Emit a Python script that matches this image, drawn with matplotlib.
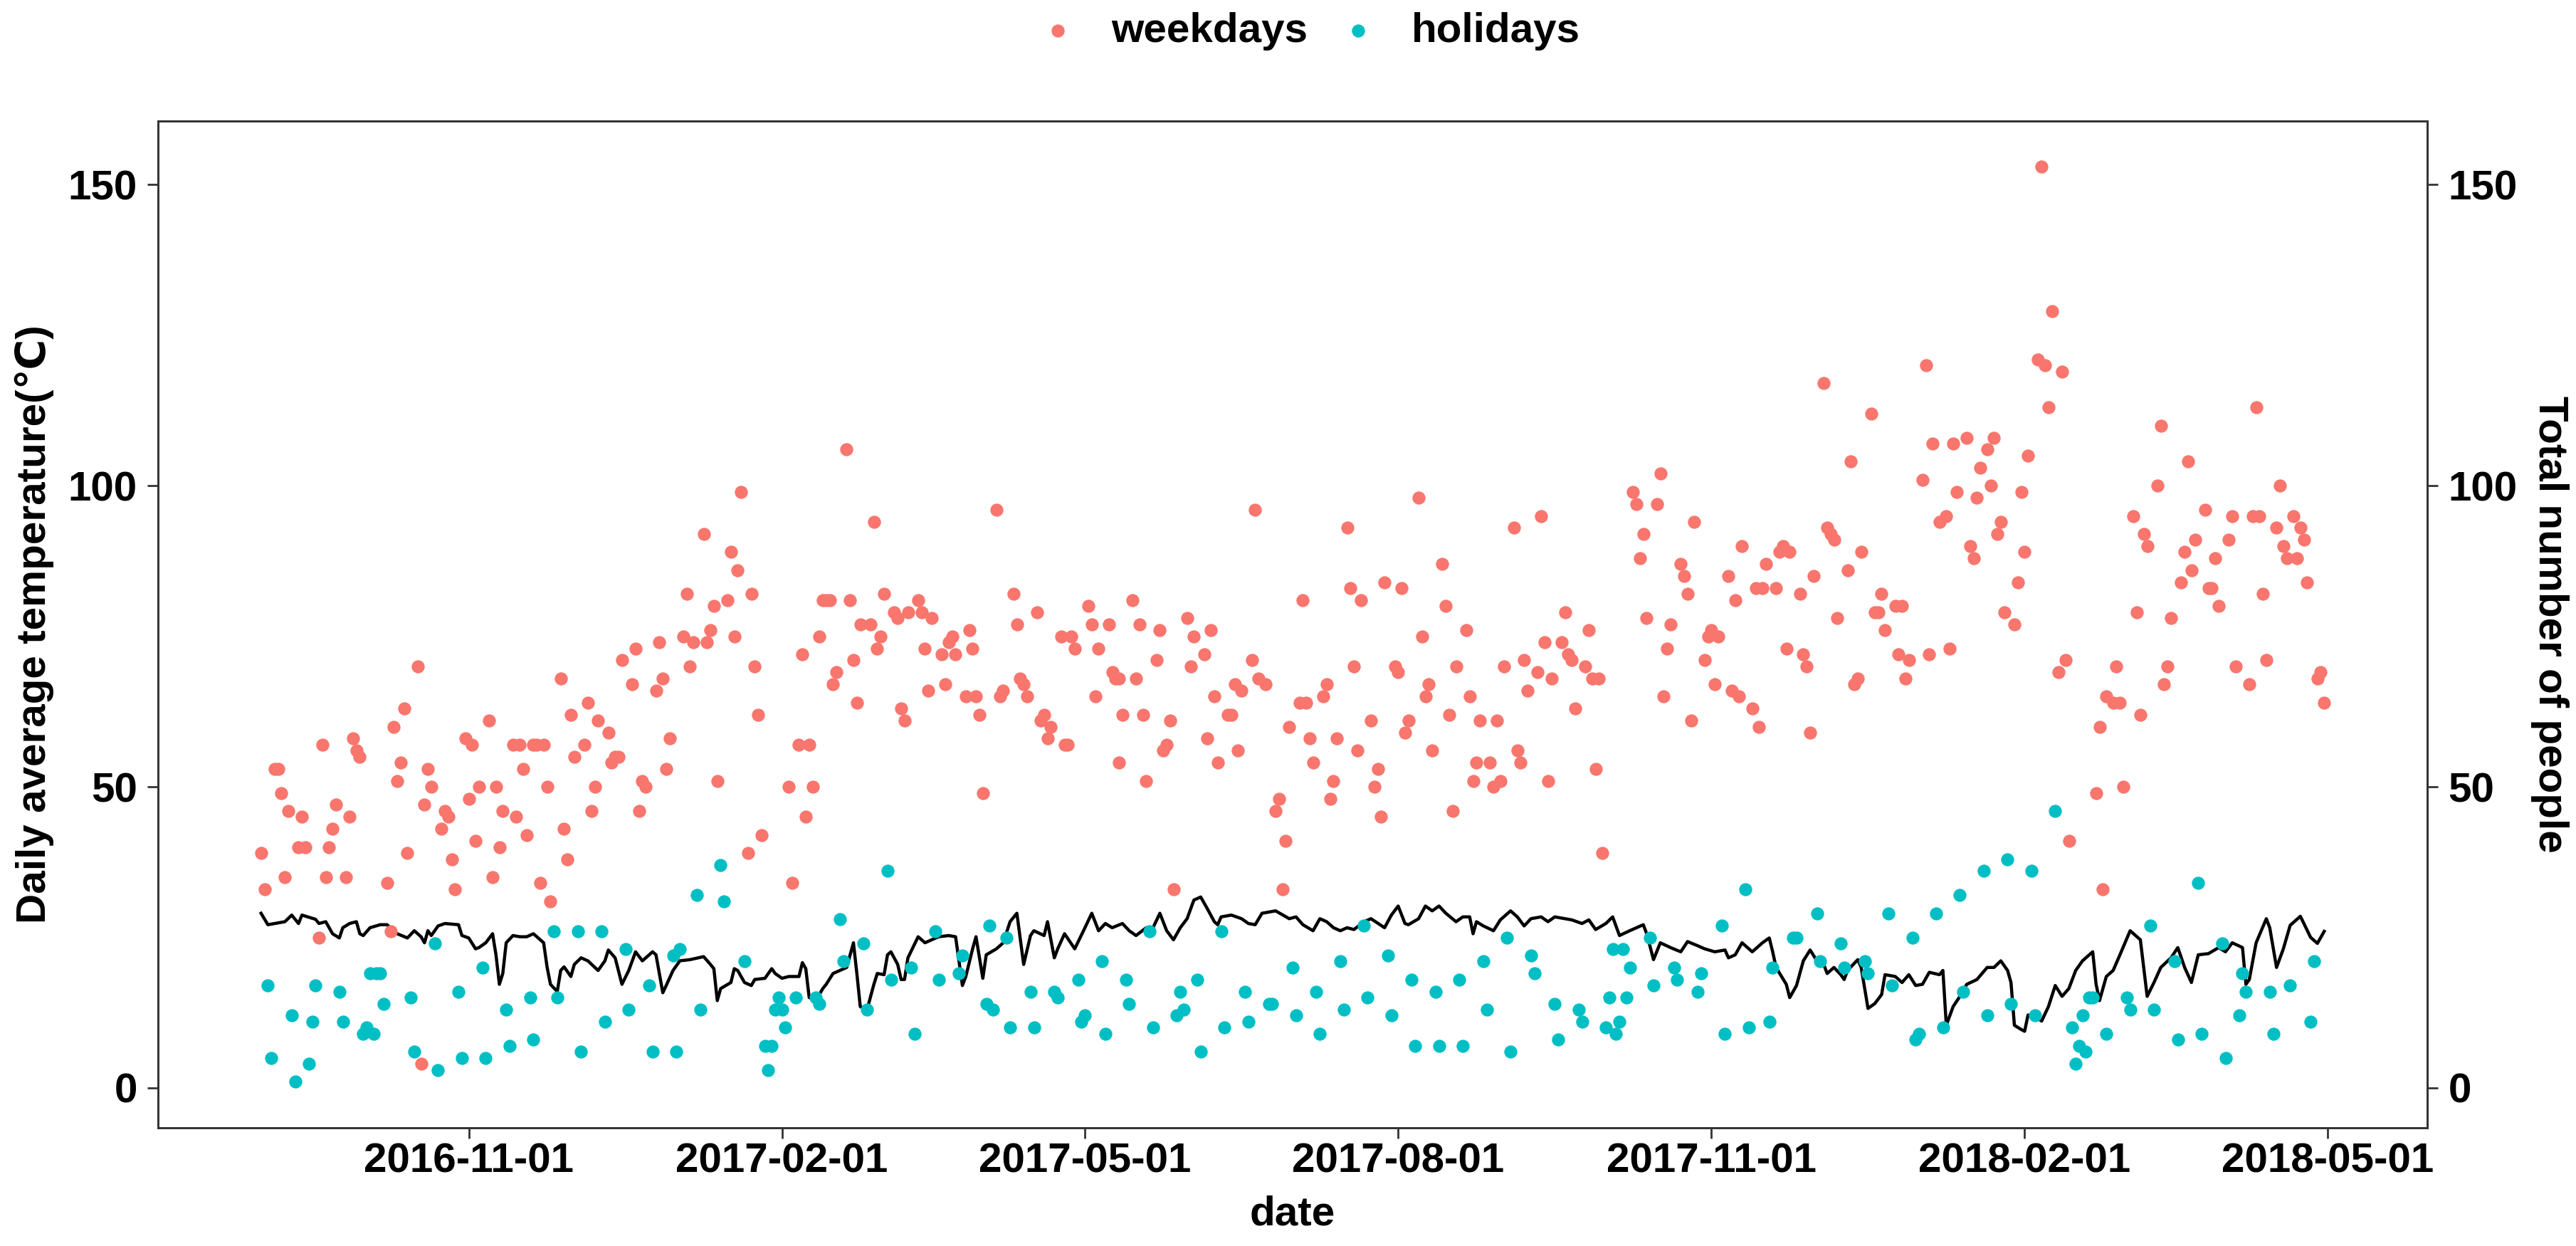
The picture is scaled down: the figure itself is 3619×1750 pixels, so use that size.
import numpy as np
import matplotlib
matplotlib.use('Agg')
import matplotlib.pyplot as plt
import matplotlib.dates as mdates

plt.rcParams['font.family'] = ['Liberation Sans', 'DejaVu Sans']
plt.rcParams['font.weight'] = 'bold'

# day offsets counted from 2016-09-01
start = np.datetime64('2016-09-01')

wd_day = [0, 1, 4, 5, 6, 7, 8, 11, 12, 13, 17, 18, 19, 20, 21, 22, 25, 26, 27, 28, 29, 37, 38, 39, 40, 41, 42, 43,
          46, 47, 48, 49, 50, 53, 54, 55, 56, 57, 60, 61, 62, 63, 64, 67, 68, 69, 70, 71, 74, 75, 76, 77, 78, 80,
          81, 82, 83, 84, 85, 88, 89, 90, 91, 92, 95, 96, 97, 98, 99, 102, 103, 104, 105, 106, 109, 110, 111, 112,
          113, 116, 117, 118, 119, 120, 124, 125, 126, 127, 130, 131, 132, 133, 134, 137, 138, 139, 140, 141, 143,
          144, 145, 146, 147, 155, 156, 158, 159, 160, 161, 162, 164, 165,
          166, 167, 168, 169, 172, 173, 174, 175, 176, 179, 180, 181, 182, 183, 186, 187, 188, 189, 190, 193, 194,
          195, 196, 197, 200, 201, 202, 203, 204, 207, 208, 209, 210, 211, 212, 216, 217, 218, 221, 222, 223, 224,
          225, 228, 229, 230, 231, 232, 235, 236, 237, 238, 239, 243, 244, 245, 246, 249, 250, 251, 252,
          252, 253, 256, 257, 258, 259, 260, 263, 264, 265, 266, 267, 268, 272, 273, 274, 277, 278, 279, 280, 281,
          284, 285, 286, 287, 288, 291, 292, 293, 295, 298, 299, 300, 301, 302, 305, 306, 307, 308, 309, 312, 313,
          314, 315, 316, 319, 320, 321, 322, 323, 326, 327, 328, 329, 330, 333, 334, 335, 336, 337,
          340, 341, 342, 343, 344, 347, 348, 349, 350, 351, 354, 355, 356, 357, 358, 361, 362, 363, 364, 365, 368,
          369, 370, 371, 372, 375, 376, 377, 378, 379, 382, 383, 384, 385, 386, 389, 390, 391, 392, 393, 394, 403,
          404, 405, 406, 407, 410, 411, 412, 413, 414, 417, 418, 419, 420, 421,
          424, 425, 426, 427, 428, 431, 432, 433, 434, 435, 438, 439, 440, 441, 442, 445, 446, 447, 448, 449, 452,
          453, 454, 455, 456, 459, 460, 461, 462, 463, 466, 467, 468, 469, 470, 473, 474, 475, 476, 477, 480, 481,
          482, 483, 484, 488, 489, 490, 491, 493, 495, 496, 497, 498, 501, 502, 503, 504, 505, 507, 508,
          509, 510, 511, 512, 515, 516, 517, 518, 519, 522, 523, 524, 525, 526, 528, 529, 530, 531, 539, 540, 541,
          542, 544, 545, 546, 547, 550, 551, 552, 553, 554, 557, 558, 559, 560, 561, 564, 565, 566, 567, 568, 571,
          572, 573, 574, 575, 578, 579, 580, 584, 585, 586, 587, 588, 589, 592, 593, 594, 595, 597, 598, 599, 600,
          601, 604, 605, 606]
wd_num = [39, 33, 53, 53, 49, 35, 46, 40, 45, 40, 25, 57, 35, 40, 43, 47, 35, 45, 58, 56, 55, 34, 26, 60, 51, 54, 63, 39,
          70, 4, 47, 53, 50, 43, 46, 45, 38, 33, 58, 48, 57, 41, 50, 61, 35, 50, 40, 46, 57, 45, 57, 53, 42, 57,
          57, 34, 57, 50, 31, 68, 43, 38, 62, 55, 57, 64, 46, 50, 61, 59, 54, 55, 55, 71, 67, 73, 46, 51,
          50, 66, 74, 68, 53, 58, 75, 82, 70, 74, 92, 74, 76, 80, 51, 81, 89, 75, 86, 99, 39,
          82, 70, 62, 42, 50, 34, 57, 72, 45, 57, 50, 75, 81,
          81, 81, 67, 69, 106, 81, 71, 64, 77, 77, 94, 73, 75, 82, 79, 78, 63, 61, 79, 81, 79,
          73, 66, 78, 72, 67, 74, 75, 72, 65, 76, 73, 65, 62, 49, 96, 65, 66, 82, 77, 68, 67,
          65, 79, 61, 62, 58, 60, 75, 57, 57, 75, 73, 80, 77, 65, 73, 77, 69, 68, 54,
          68, 62, 81, 68, 77, 62, 51, 71, 76, 56, 57, 61, 33, 78, 70, 75, 72, 58, 76, 65, 54,
          62, 62, 67, 56, 66, 71, 96, 68, 67, 46, 48, 33, 41, 60, 64, 81, 64, 58, 54, 65, 67,
          48, 51, 58, 93, 83, 70, 56, 81, 61, 50, 53, 45, 84, 70, 69, 83, 59, 61,
          98, 75, 65, 67, 56, 87, 80, 62, 46, 70, 76, 65, 51, 54, 61, 54, 50, 61, 51, 70, 93,
          56, 54, 71, 66, 69, 95, 74, 51, 68, 74, 79, 72, 71, 63, 70, 76, 68, 53, 68, 39, 99,
          97, 88, 92, 78, 97, 102, 65, 73, 77, 87, 85, 82, 61, 94,
          71, 75, 76, 67, 75, 85, 66, 81, 65, 90, 63, 83, 60, 83, 87, 83, 89, 90, 73, 89, 82,
          72, 70, 59, 85, 117, 93, 92, 91, 78, 86, 104, 67, 68, 89, 112, 79, 79, 82, 76, 80, 72,
          80, 68, 71, 101, 120, 72, 107, 94, 95, 73, 107, 99, 108, 90, 88, 98, 103, 106, 100,
          108, 92, 94, 79, 77, 84, 99, 89, 105, 121, 153, 120, 113, 129, 69, 119, 71, 41, 49, 60, 33,
          65, 64, 70, 64, 50, 95, 79, 62, 92, 90, 100, 110, 67, 70, 78, 84, 89, 104, 86, 91, 96,
          83, 83, 88, 80, 91, 95, 70, 67, 95, 113, 95, 82, 71, 93, 100, 90, 88, 95, 88, 93, 91,
          84, 68, 69, 64]

hd_day = [2, 3, 9, 10, 14, 15, 16, 23, 24, 30, 31, 32, 33, 34, 35, 36, 44, 45, 51, 52, 58, 59, 65, 66, 72, 73, 79, 80,
          86, 87, 93, 94, 100, 101, 107, 108, 114, 115, 121, 122, 123, 128, 129, 135, 136, 142, 148, 149, 150, 151,
          152, 153, 154, 157, 163, 164,
          170, 171, 177, 178, 184, 185, 191, 192, 198, 199, 205, 206, 213, 214, 215, 219, 220, 226, 227, 233, 234,
          240, 241, 242, 247, 248,
          254, 255, 261, 262, 269, 270, 271, 275, 276, 282, 283, 289, 290, 296, 297, 303, 304, 310, 311, 317, 318,
          324, 325, 331, 332,
          338, 339, 345, 346, 352, 353, 359, 360, 366, 367, 373, 374, 380, 381, 387, 388, 395, 396, 397, 398, 399,
          400, 401, 402, 408, 409, 415, 416, 422, 423,
          429, 430, 436, 437, 443, 444, 450, 451, 457, 458, 464, 465, 471, 472, 478, 479, 485, 486, 487, 492, 494,
          499, 500, 506, 507,
          513, 514, 520, 521, 527, 532, 533, 534, 535, 536, 537, 538, 542, 548, 549, 555, 556, 562, 563, 569, 570,
          576, 577, 581, 582, 583, 590, 591, 596, 602, 603]
hd_num = [17, 5, 12, 1, 4, 11, 17, 16, 11, 9, 10, 19, 9, 19, 19, 14, 15, 6, 24, 3, 16, 5, 20, 5, 13, 7, 15, 8,
          26, 15, 26, 6, 26, 11, 23, 13, 17, 6, 22, 6, 23, 32, 13, 37, 31, 21, 7, 3, 7, 13,
          15, 13, 10, 15, 15, 14,
          28, 21, 24, 13, 36, 18, 20, 9, 26, 18, 19, 22, 14, 27, 13, 25, 10, 16, 10, 16, 15,
          18, 11, 12, 21, 9,
          18, 14, 26, 10, 12, 16, 13, 18, 6, 26, 10, 16, 11, 14, 14, 20, 12, 16, 9, 21, 13,
          27, 15, 22, 12,
          18, 7, 16, 7, 18, 7, 21, 13, 25, 6, 22, 19, 14, 8, 13, 11, 10, 15, 23, 9, 11,
          23, 15, 20, 25, 17, 20, 18, 16, 19,
          27, 9, 33, 10, 11, 20, 25, 25, 29, 21, 24, 20, 21, 19, 29, 17, 25, 8, 9, 29, 10,
          32, 16, 36, 12,
          38, 14, 36, 12, 46, 10, 4, 7, 12, 6, 15, 15, 9, 15, 13, 27, 13, 21, 8, 34, 9,
          24, 5, 12, 19, 16, 16, 9, 17, 11, 21]

# daily average temperature line
t_day = [0, 2, 7, 9, 11, 12, 16, 17, 19, 21, 23, 24, 26, 28, 29, 30, 32, 35, 37, 40, 43, 45, 47, 48, 49, 50, 52, 54,
         58, 59, 61, 63, 64, 66, 68, 69, 70, 71, 72, 74, 76, 78, 80, 83, 84, 85, 87, 88, 89, 91, 92, 94, 96, 99,
         101, 102, 104, 106, 108, 110, 112, 115, 116, 118, 119, 121, 123, 126, 130, 132, 133, 134, 135, 138, 139,
         140, 142, 144, 145, 148, 150, 151, 153, 155, 158, 159, 160, 161, 163, 165, 166, 168, 172, 174, 175, 176,
         178, 180, 181, 183, 184, 185, 187, 188, 189, 190, 193, 195, 197, 199, 202, 204, 206, 207, 209, 210, 212,
         213, 216, 218, 220, 222, 224, 226, 227, 230, 231, 233, 234, 236, 239, 242, 244, 246, 248, 250, 253, 255,
         257, 260, 262, 264, 266, 268, 270, 272, 274, 276, 278, 280, 281, 282, 285, 288, 290, 292, 294, 298, 302,
         304, 306, 309, 311, 313, 315, 317, 319, 321, 324, 326, 330, 332, 334, 336, 337, 340, 342, 344, 346, 348,
         351, 353, 355, 356, 357, 359, 362, 364, 367, 369, 371, 373, 376, 378, 380, 383, 385, 388, 390, 392, 395,
         397, 399, 402, 404, 406, 407, 409, 411, 414, 417, 419, 422, 424, 427, 430, 431, 433, 435, 436, 438, 441,
         443, 444, 445, 448, 449, 451, 453, 455, 457, 459, 460, 462, 464, 465, 466, 469, 470, 472, 474, 476, 477,
         480, 482, 484, 486, 488, 490, 493, 494, 495, 497, 499, 501, 504, 507, 509, 511, 513, 514, 515, 517, 518,
         519, 521, 523, 525, 527, 529, 531, 533, 535, 538, 539, 540, 542, 544, 546, 549, 551, 552, 554, 556, 558,
         561, 563, 565, 567, 569, 572, 575, 577, 579, 582, 583, 584, 586, 589, 590, 592, 594, 596, 599, 602, 604,
         606]
t_val = [29.0, 27.1, 27.6, 28.7, 27.3, 28.7, 28.0, 27.3, 27.6, 25.6, 24.9, 26.6, 27.3, 27.6, 25.6, 25.3, 26.6, 27.1,
         27.1, 25.6, 24.9, 26.1, 25.1, 24.1, 26.1, 25.3, 26.9, 27.3, 27.1, 25.3, 24.9, 23.1, 23.3, 24.1, 25.6, 22.1,
         17.2, 19.0, 24.1, 25.3, 25.1, 25.1, 25.6, 24.1, 20.1, 17.2, 16.0, 19.5, 20.1, 18.5, 20.5, 21.6, 21.1, 19.5,
         21.1, 22.9, 21.6, 17.2, 19.5, 22.6, 21.1, 22.6, 22.1, 15.8, 17.0, 19.5, 21.1, 21.3, 21.8, 20.5, 19.8, 14.5,
         16.5, 17.5, 19.8, 19.5, 17.5, 17.0, 18.0, 18.2, 19.8, 19.0, 18.2, 18.5, 18.5, 20.8, 19.8, 15.0, 14.5, 16.5,
         17.2, 19.0, 20.0, 24.1, 19.0, 13.5, 13.0, 17.2, 19.0, 18.8, 22.1, 22.6, 20.5, 18.0, 18.0, 21.6, 25.1, 24.1,
         24.6, 25.1, 25.3, 25.1, 17.0, 18.5, 23.1, 25.1, 18.2, 22.1, 23.1, 24.1, 27.6, 29.0, 20.5, 25.3, 26.1, 25.3,
         27.6, 21.6, 23.1, 25.6, 23.1, 26.6, 29.0, 26.1, 27.3, 26.6, 27.3, 26.1, 25.3, 26.6, 26.6, 29.0, 26.1, 24.6,
         26.6, 28.1, 31.2, 31.7, 29.7, 27.6, 27.1, 28.4, 28.7, 28.1, 27.3, 27.1, 29.0, 29.4, 28.1, 28.4, 27.1, 26.1,
         28.1, 27.6, 26.6, 26.1, 26.6, 26.3, 27.6, 28.1, 26.6, 28.7, 30.2, 27.3, 27.1, 28.1, 30.2, 29.4, 30.2, 29.0,
         27.6, 28.4, 28.4, 25.6, 27.6, 26.9, 26.1, 27.9, 29.4, 28.4, 26.9, 28.1, 28.4, 27.6, 28.4, 28.1, 27.9, 27.3,
         27.9, 26.3, 27.3, 28.4, 25.3, 26.1, 26.6, 27.1, 25.6, 21.3, 24.1, 23.3, 22.6, 24.3, 23.6, 23.1, 22.6, 22.9,
         21.6, 22.1, 24.1, 23.6, 22.6, 24.1, 24.9, 22.6, 20.0, 17.2, 15.0, 17.0, 21.1, 22.9, 21.1, 20.5, 19.0, 20.0,
         18.8, 18.0, 19.5, 21.3, 20.0, 13.2, 14.0, 15.5, 18.8, 18.5, 17.5, 18.8, 17.0, 17.2, 19.2, 18.8, 19.5, 10.4,
         13.5, 15.2, 17.2, 18.0, 20.0, 20.0, 21.1, 19.5, 17.5, 10.4, 9.7, 9.4, 12.1, 11.9, 11.1, 13.5, 17.0, 15.2,
         16.5, 19.5, 21.1, 22.6, 17.2, 14.5, 18.5, 19.5, 22.1, 26.1, 25.1, 24.6, 15.2, 17.5, 20.0, 21.6, 23.3, 20.0,
         17.5, 22.1, 22.3, 23.3, 22.6, 24.1, 23.3, 17.2, 18.0, 24.1, 28.1, 26.6, 20.0, 23.1, 27.0, 28.5, 25.0, 24.0,
         26.0]

tick_dates = ['2016-11-01', '2017-02-01', '2017-05-01', '2017-08-01', '2017-11-01', '2018-02-01', '2018-05-01']

wd_col = '#F8766D'
hd_col = '#00BFC4'
frame_col = '#333333'
fs = 42

fig = plt.figure(figsize=(36.19, 17.5), dpi=100)
ax = fig.add_axes([0.0613, 0.095, 0.881, 0.808])

ax.plot(start + np.array(t_day), t_val, color='black', lw=3.2, zorder=2)
ax.scatter(start + np.array(wd_day), wd_num, s=175, color=wd_col, linewidths=0, zorder=3, label='weekdays')
ax.scatter(start + np.array(hd_day), hd_num, s=175, color=hd_col, linewidths=0, zorder=3, label='holidays')

# ggplot style 5% expansion
all_days = wd_day + hd_day + t_day
d0 = mdates.date2num(start + min(all_days))
d1 = mdates.date2num(start + max(all_days))
xpad = 0.05 * (d1 - d0)
ax.set_xlim(d0 - xpad, d1 + xpad)
all_y = wd_num + hd_num + t_val
ylo, yhi = min(all_y), max(all_y)
ypad = 0.05 * (yhi - ylo)
ax.set_ylim(ylo - ypad, yhi + ypad)

ax.set_xticks([mdates.date2num(np.datetime64(d)) for d in tick_dates])
ax.xaxis.set_major_formatter(mdates.DateFormatter('%Y-%m-%d'))
ax.set_yticks([0, 50, 100, 150])

ax2 = ax.twinx()
ax2.set_ylim(ax.get_ylim())
ax2.set_yticks([0, 50, 100, 150])

for a in (ax, ax2):
    for sp in a.spines.values():
        sp.set_color(frame_col)
        sp.set_linewidth(2.0)
    a.tick_params(length=11, width=2.0, color=frame_col, labelsize=fs, pad=10, labelcolor='black')
    for lab in a.get_xticklabels() + a.get_yticklabels():
        lab.set_fontweight('bold')
ax.tick_params(axis='x', pad=4)

ax.set_xlabel('date', fontsize=fs, fontweight='bold', labelpad=14)
ax.set_ylabel('Daily average temperature(℃)', fontsize=fs, fontweight='bold', labelpad=14)
ax2.set_ylabel('Total number of people', fontsize=fs, fontweight='bold', rotation=270, labelpad=52)

fig.legend(handles=ax.collections, labels=['weekdays', 'holidays'], loc='center',
           bbox_to_anchor=(0.508, 0.975), ncol=2, frameon=False, fontsize=fs,
           handlelength=1.0, handletextpad=0.8, columnspacing=0.7, scatterpoints=1)

fig.savefig('out.png', dpi=100)
